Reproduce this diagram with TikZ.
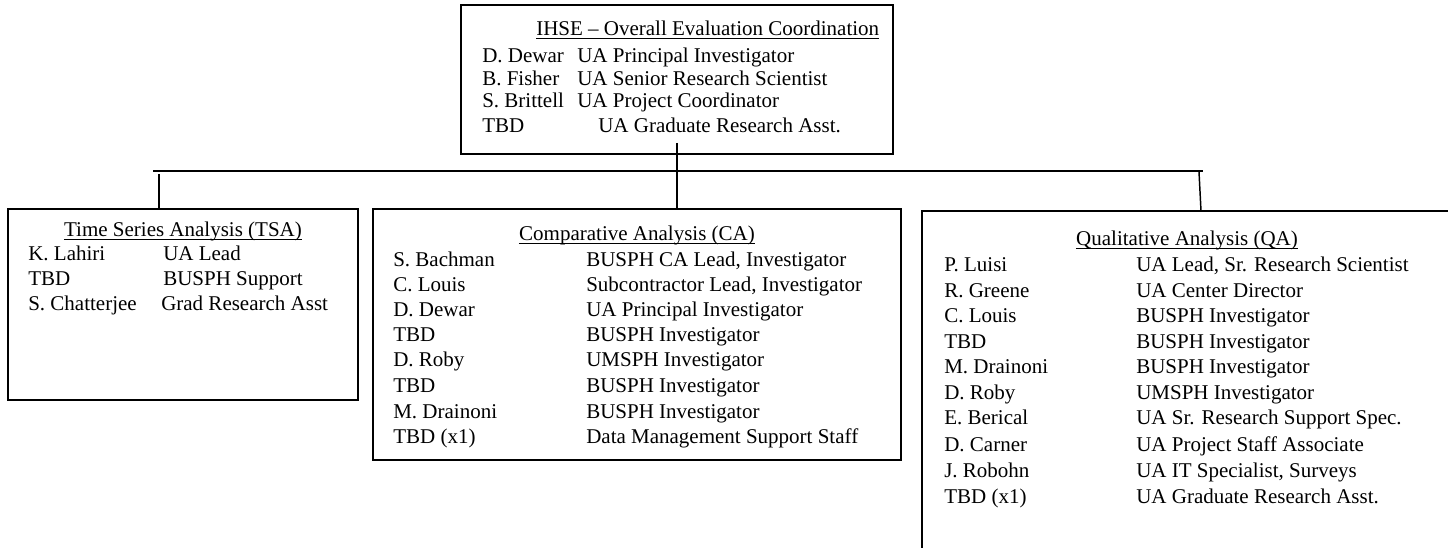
\documentclass[tikz,border=0pt]{standalone}
\usepackage{fontspec}
\setmainfont{Liberation Serif}
\usetikzlibrary{fit}
\begin{document}
\begin{tikzpicture}[x=0.75pt,y=-0.75pt,
  box/.style={draw,line width=1.5pt,inner sep=0pt},
  link/.style={line width=1.1pt},
  txt/.style={anchor=base west,inner sep=0pt,font=\fontsize{15.75pt}{18pt}\selectfont},
  ttl/.style={anchor=base,inner sep=0pt,font=\fontsize{15.75pt}{18pt}\selectfont},
  uline/.style={line width=0.8pt}]
\useasboundingbox (0,0) rectangle (1448,548);

% ---------- boxes ----------
\node[box,fit={(461,5) (893,154)}] (top) {};
\node[box,fit={(8,209) (358,400)}] (tsa) {};
\node[box,fit={(373,209) (901,460)}] (ca) {};
\begin{scope}
\clip (0,0) rectangle (1448,548);
\node[box,fit={(922,211) (1470,580)}] (qa) {};
\end{scope}

% ---------- top box text ----------
\node[txt] (t0) at (536,36) {IHSE – Overall Evaluation Coordination};
\draw[uline] ([yshift=-2.2pt]t0.base west) -- ([yshift=-2.2pt]t0.base east);
\node[txt] (t1a) at (482,63) {D. Dewar};
\node[txt] (t1b) at (577,63) {UA Principal Investigator};
\node[txt] (t2a) at (482,86) {B. Fisher};
\node[txt] (t2b) at (577,86) {UA Senior Research Scientist};
\node[txt] (t3a) at (482,108) {S. Brittell};
\node[txt] (t3b) at (577,108) {UA Project Coordinator};
\node[txt] (t4a) at (482,133) {TBD};
\node[txt] (t4b) at (598,133) {UA Graduate Research Asst.};

% ---------- TSA text ----------
\node[ttl] (s0) at (183,237) {Time Series Analysis (TSA)};
\draw[uline] ([yshift=-2.2pt]s0.base west) -- ([yshift=-2.2pt]s0.base east);
\node[txt] (s1a) at (28,261) {K. Lahiri};
\node[txt] (s1b) at (163,261) {UA Lead};
\node[txt] (s2a) at (28,286) {TBD};
\node[txt] (s2b) at (163,286) {BUSPH Support};
\node[txt] (s3a) at (28,311) {S. Chatterjee};
\node[txt] (s3b) at (161,311) {Grad Research Asst};

% ---------- CA text ----------
\node[ttl] (c0) at (637,241) {Comparative Analysis (CA)};
\draw[uline] ([yshift=-2.2pt]c0.base west) -- ([yshift=-2.2pt]c0.base east);
\foreach \n/\r/\yy [count=\i] in {
  S. Bachman/BUSPH CA Lead{,} Investigator/267,
  C. Louis/Subcontractor Lead{,} Investigator/292,
  D. Dewar/UA Principal Investigator/317,
  TBD/BUSPH Investigator/342,
  D. Roby/UMSPH Investigator/367,
  TBD/BUSPH Investigator/393,
  M. Drainoni/BUSPH Investigator/418,
  TBD (x1)/Data Management Support Staff/443}{
  \node[txt] (ca\i a) at (393,\yy) {\n};
  \node[txt] (ca\i b) at (586,\yy) {\r};
}

% ---------- QA text ----------
\node[ttl] (q0) at (1187,246) {Qualitative Analysis (QA)};
\draw[uline] ([yshift=-2.2pt]q0.base west) -- ([yshift=-2.2pt]q0.base east);
\foreach \n/\r/\yy [count=\i] in {
  P. Luisi/UA Lead{,} Sr. Research Scientist/272,
  R. Greene/UA Center Director/298,
  C. Louis/BUSPH Investigator/323,
  TBD/BUSPH Investigator/349,
  M. Drainoni/BUSPH Investigator/374,
  D. Roby/UMSPH Investigator/400,
  E. Berical/UA Sr. Research Support Spec./425,
  D. Carner/UA Project Staff Associate/451,
  J. Robohn/UA IT Specialist{,} Surveys/477,
  TBD (x1)/UA Graduate Research Asst./503}{
  \node[txt] (qa\i a) at (944,\yy) {\n};
  \node[txt] (qa\i b) at (1136,\yy) {\r};
}

% ---------- connectors ----------
\coordinate (busL) at (153,171);
\coordinate (busR) at (1203,171);
\coordinate (tsaT) at (159,174);
\coordinate (caT) at (677,143);
\coordinate (qaT) at (1199,172);
\coordinate (qaB) at (1201,211);
\draw[link] (busL) -- (busR);
\draw[link] (tsaT) -- (tsaT |- tsa.north);
\draw[link] (caT) -- (caT |- ca.north);
\draw[link] (qaT) -- (qaB);
\end{tikzpicture}
\end{document}
